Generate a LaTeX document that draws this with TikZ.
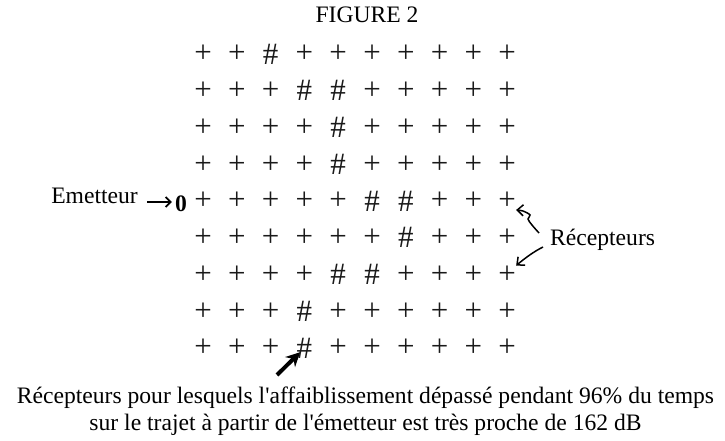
\documentclass[tikz,border=0pt]{standalone}
\usepackage{fontspec}
\setmainfont{Liberation Serif}
\usetikzlibrary{arrows.meta,calc}
\newcommand\symP{+}
\newcommand\symH{\#}
\begin{document}
\begin{tikzpicture}[x=1pt,y=-1pt,
  txt/.style={font=\fontsize{23.6}{27}\selectfont, inner sep=0pt, text=black},
  cell/.style={font=\fontsize{31}{31}\selectfont, inner sep=0pt, text=black!90},
  emarrow/.style={line width=1.8pt, -{Straight Barb[length=5pt,width=10pt]}},
  recarrow/.style={line width=1.5pt, -{Straight Barb[length=6pt,width=11pt]}},
  bigarrow/.style={line width=4pt, -{Stealth[length=14pt,width=14pt]}}]
\useasboundingbox (0,0) rectangle (725,441);
\node[txt, anchor=base] (title) at (367,23) {FIGURE 2};
\foreach \r/\row in {1/{P,P,H,P,P,P,P,P,P,P},
                     2/{P,P,P,H,H,P,P,P,P,P},
                     3/{P,P,P,P,H,P,P,P,P,P},
                     4/{P,P,P,P,H,P,P,P,P,P},
                     5/{P,P,P,P,P,H,H,P,P,P},
                     6/{P,P,P,P,P,P,H,P,P,P},
                     7/{P,P,P,P,H,H,P,P,P,P},
                     8/{P,P,P,H,P,P,P,P,P,P},
                     9/{P,P,P,H,P,P,P,P,P,P}}{
  \foreach \s [count=\c] in \row {
    \node[cell] (g-\r-\c) at ({203+(\c-1)*33.8},{54+(\r-1)*36.75}) {\csname sym\s\endcsname};
  }
}
\node[txt, anchor=base east] (em) at (138,203) {Emetteur};
\node[txt, font=\fontsize{23.6}{27}\selectfont\bfseries] (zero) at (181,203.5) {0};
\draw[emarrow] ($(em.base east)+(9,-1)$) -- ($(em.base east -| zero.west)+(-3,-1)$);
\node[txt, anchor=base west] (rec) at (550,245) {Récepteurs};
\coordinate (ra) at (539,233);
\coordinate (rb) at (543,247);
\draw[recarrow] plot[smooth, tension=0.6] coordinates {(ra) (532,225) (528,219) (530,215) (523,211) (g-5-10.south east)};
\draw[recarrow] (rb) .. controls (533,252) and (524,259) .. (g-7-10.north east);
\coordinate (ba) at (277,375);
\draw[bigarrow, shorten >=6pt] (ba) -- (g-9-4.center);
\node[txt, anchor=base] (cap1) at (365.5,403) {Récepteurs pour lesquels l\textquotesingle affaiblissement dépassé pendant 96\% du temps};
\node[txt, anchor=base] (cap2) at (365.5,430) {sur le trajet à partir de l\textquotesingle émetteur est très proche de 162 dB};
\end{tikzpicture}
\end{document}
